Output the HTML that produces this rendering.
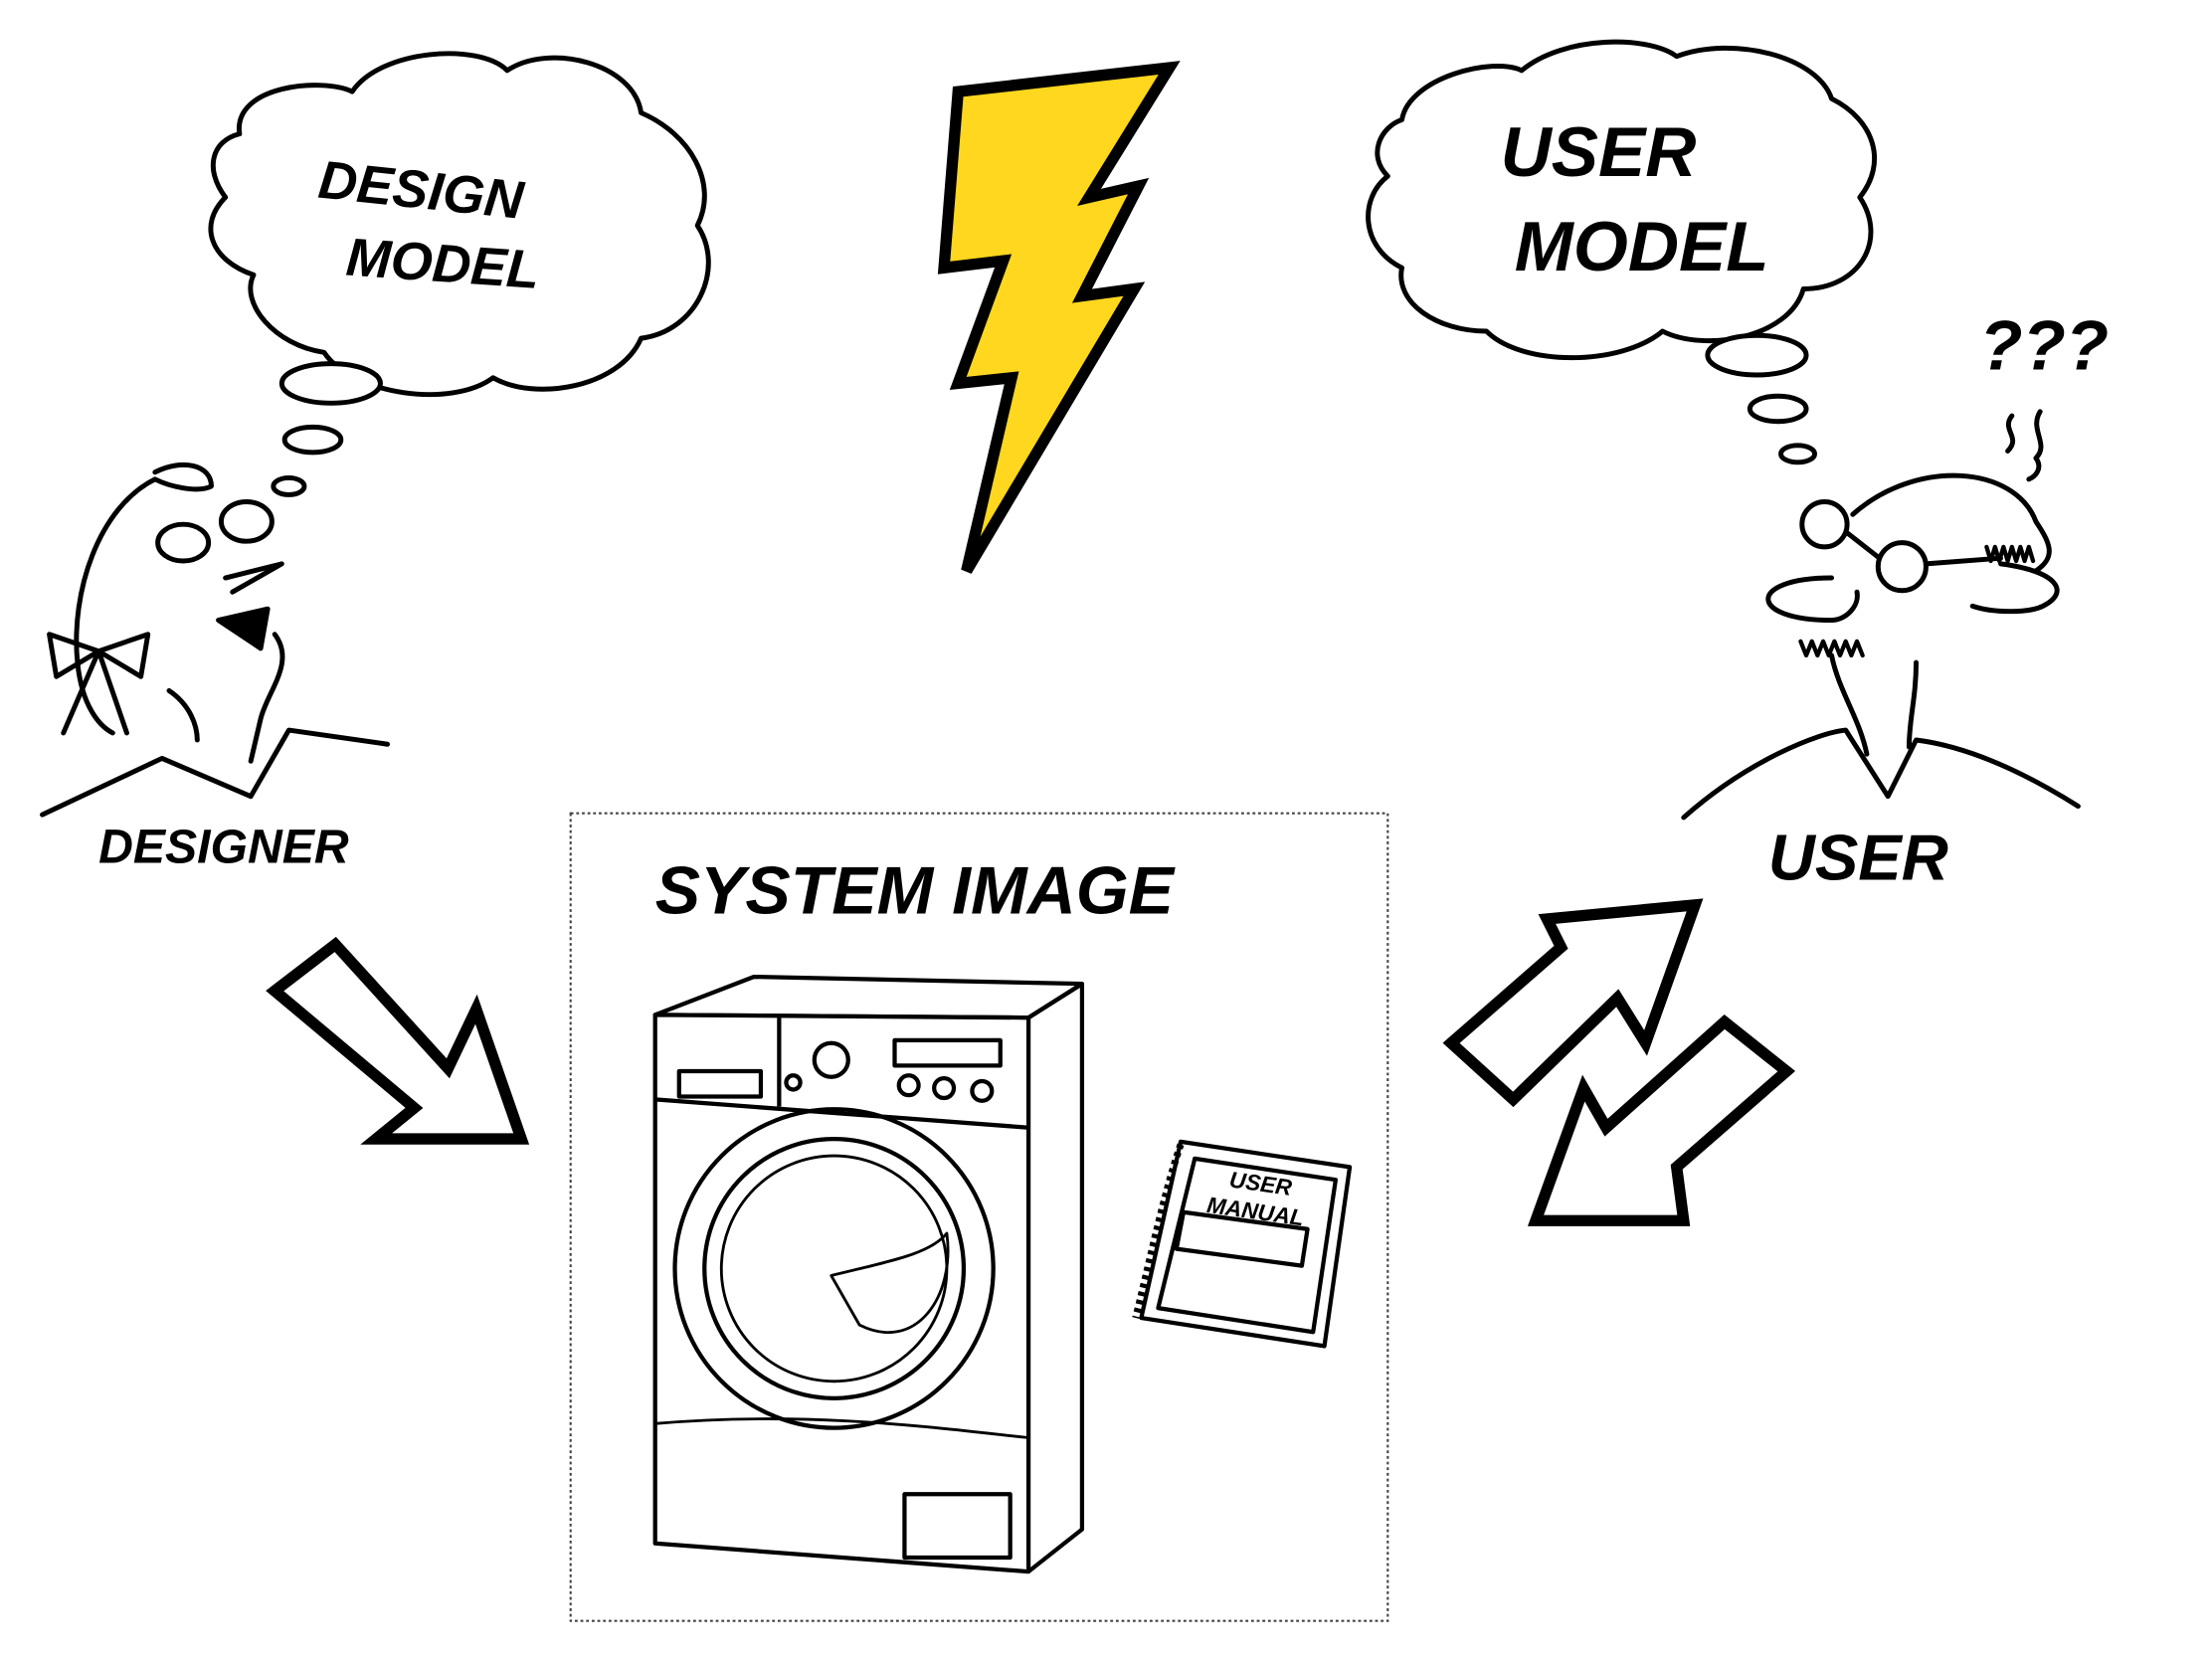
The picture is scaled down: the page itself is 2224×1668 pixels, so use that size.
<!DOCTYPE html>
<html><head><meta charset="utf-8"><style>
html,body{margin:0;padding:0;background:#fff;}
svg{display:block}
text{font-family:"Liberation Sans",sans-serif;font-weight:bold;font-style:italic;fill:#000}
</style></head><body>
<svg width="2224" height="1668" viewBox="0 0 1570 1177" preserveAspectRatio="none" xmlns="http://www.w3.org/2000/svg">
<g fill="#fff" stroke="#000" stroke-width="3.5" stroke-linejoin="round" stroke-linecap="round">
<path d="M170,95 C165,60 230,55 250,65 C270,35 340,30 360,50 C390,30 450,45 455,80 C490,95 510,130 495,160 C515,190 495,235 455,240 C440,275 380,285 350,268 C320,290 250,280 230,250 C195,245 170,215 180,195 C150,185 140,160 160,140 C145,120 150,100 170,95 Z"/>
<ellipse cx="235" cy="272" rx="35" ry="14"/>
<ellipse cx="222" cy="312" rx="20" ry="9"/>
<ellipse cx="205" cy="345" rx="11" ry="6"/>
<path d="M995,85 C1000,55 1060,40 1080,50 C1110,25 1170,25 1190,40 C1230,25 1290,40 1300,70 C1330,85 1340,115 1320,140 C1340,170 1320,205 1280,205 C1270,240 1210,250 1180,235 C1150,260 1080,260 1055,235 C1020,235 990,215 995,190 C965,175 965,140 985,125 C970,110 980,90 995,85 Z"/>
<ellipse cx="1247" cy="252" rx="35" ry="14"/>
<ellipse cx="1262" cy="290" rx="20" ry="9"/>
<ellipse cx="1276" cy="322" rx="12" ry="6"/>
</g>
<polygon points="680,65 830,48 773,140 808,132 768,210 805,205 686,405 718,268 680,272 712,185 670,190" fill="#FFD71E" stroke="#000" stroke-width="8" stroke-linejoin="miter"/>
<text x="225" y="140" font-size="38" transform="rotate(6 225 140)">DESIGN</text>
<text x="245" y="195" font-size="38" transform="rotate(4 245 195)">MODEL</text>
<text x="1065" y="125" font-size="50">USER</text>
<text x="1075" y="192" font-size="50">MODEL</text>
<text x="1405" y="262" font-size="50">???</text>
<g fill="none" stroke="#000" stroke-width="3.5" stroke-linecap="round" stroke-linejoin="round">
<path d="M110,340 C70,360 50,420 55,470 C58,500 70,515 80,520"/>
<path d="M110,335 C130,325 150,330 150,345 C140,350 120,345 110,340"/>
<ellipse cx="130" cy="385" rx="18" ry="13"/>
<ellipse cx="175" cy="370" rx="18" ry="14"/>
<path d="M160,410 L200,400 L165,420"/>
<path d="M155,440 L190,432 L185,460 Z" fill="#000"/>
<path d="M195,450 C210,470 190,490 185,510 L178,540"/>
<path d="M120,490 C135,500 140,515 140,525"/>
<path d="M35,450 L70,462 L40,480 Z M70,462 L105,450 L100,480 Z M70,462 L45,520 M70,462 L90,520"/>
<path d="M30,578 L115,538 L178,565 L205,518 L275,528"/>
<path d="M1315,365 C1360,325 1430,330 1445,370 C1455,385 1460,395 1445,405"/>
<circle cx="1295" cy="372" r="16"/>
<circle cx="1350" cy="402" r="17"/>
<path d="M1311,378 L1334,396 M1367,400 L1420,396"/>
<path d="M1300,410 C1240,410 1240,440 1300,440 C1310,440 1320,430 1318,420"/>
<path d="M1420,400 C1460,405 1470,420 1450,430 C1440,435 1415,435 1400,430"/>
<path d="M1300,465 C1305,490 1320,510 1325,535 M1360,470 C1360,495 1355,510 1355,530"/>
<path d="M1195,580 C1240,540 1290,520 1310,518 L1340,565 L1360,525 C1400,530 1440,550 1475,572"/>
<path d="M1428,295 C1420,305 1435,310 1425,320 M1448,292 C1440,305 1455,315 1445,325 C1450,332 1445,338 1440,340"/>
<path d="M1278,455 l4,10 l4,-10 l4,10 l4,-10 l4,10 l4,-10 l4,10 l4,-10 l4,10 l4,-10 l4,10" stroke-width="3"/>
<path d="M1410,388 l3,10 l3,-10 l3,10 l3,-10 l3,10 l3,-10 l3,10 l3,-10 l3,10 l3,-10 l3,10" stroke-width="3"/>
</g>
<text x="70" y="612" font-size="34">DESIGNER</text>
<text x="1255" y="624" font-size="46">USER</text>
<rect x="405" y="577" width="580" height="573" fill="none" stroke="#444" stroke-width="1.5" stroke-dasharray="2,2"/>
<text x="465" y="648" font-size="48">SYSTEM  IMAGE</text>
<g fill="none" stroke="#000" stroke-width="3" stroke-linejoin="round">
<path d="M465,720 L535,693 L768,698 L730,722 Z"/>
<path d="M465,720 L730,722 L730,1115 L465,1095 Z" fill="#fff"/>
<path d="M730,722 L768,698 L768,1085 L730,1115"/>
<path d="M465,780 L730,800"/>
<path d="M553,722 L553,785"/>
<rect x="482" y="760" width="58" height="18"/>
<circle cx="590" cy="752" r="12"/>
<rect x="635" y="738" width="75" height="18"/>
<circle cx="645" cy="770" r="7"/><circle cx="670" cy="772" r="7"/><circle cx="697" cy="774" r="7"/>
<circle cx="563" cy="768" r="5"/>
<circle cx="592" cy="900" r="113"/>
<circle cx="592" cy="900" r="92"/>
<circle cx="592" cy="900" r="80" stroke-width="2"/>
<path d="M590,905 C630,895 660,890 672,875 C678,920 650,960 610,940 Z" stroke-width="2"/>
<path d="M465,1010 C580,1000 680,1015 730,1020" stroke-width="2"/>
<rect x="642" y="1060" width="75" height="45"/>
<path d="M838,810 L958,828 L940,955 L810,935 Z" fill="#fff"/>
<path d="M848,822 L948,837 L932,945 L822,928 Z"/>
<path d="M840,860 L928,872 L924,898 L835,886 Z"/>
<path d="M838,812 C825,850 815,900 806,935" stroke-dasharray="3,3" stroke-width="5"/>
</g>
<text x="872" y="842" font-size="16" transform="rotate(8 872 842)">USER</text>
<text x="856" y="860" font-size="16" transform="rotate(8 856 860)">MANUAL</text>
<g fill="#fff" stroke="#000" stroke-width="8" stroke-linejoin="miter">
<polygon points="195,703 238,670 318,758 338,716 370,808 267,808 294,786"/>
<polygon points="1030,740 1108,672 1098,652 1203,642 1168,740 1148,708 1074,780"/>
<polygon points="1268,760 1190,828 1195,866 1090,866 1124,772 1140,800 1224,725"/>
</g>
</svg>
</body></html>
